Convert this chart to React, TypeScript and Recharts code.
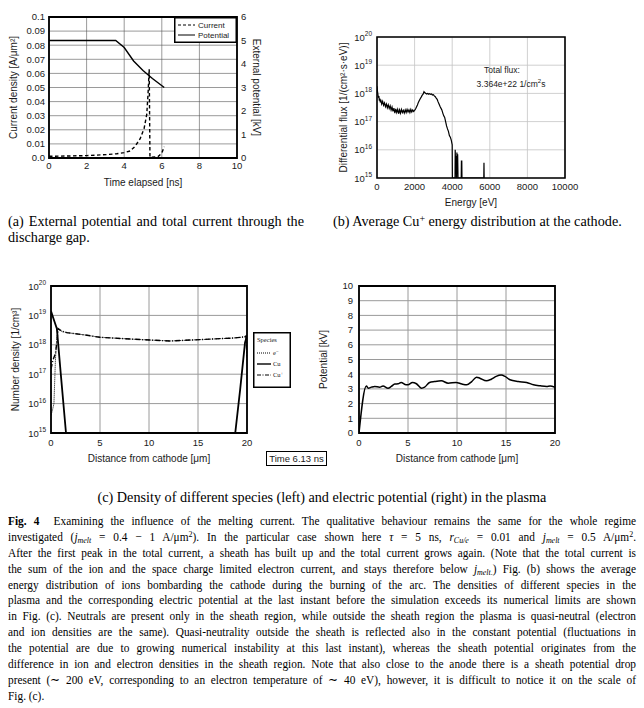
import React from 'react';
import { LineChart, Line, XAxis, YAxis, CartesianGrid, ReferenceArea, Legend } from 'recharts';

const SANS = "'Liberation Sans', Arial, sans-serif";
const SERIF = "'Liberation Serif', 'Times New Roman', serif";
const INK = '#1a1a1a';

// ---------- (a) current & external potential ----------
const aTicksX = [0, 2, 4, 6, 8, 10];
const aTicksLeft = [0, 0.01, 0.02, 0.03, 0.04, 0.05, 0.06, 0.07, 0.08, 0.09, 0.1];
const aTicksRight = [0, 1, 2, 3, 4, 5, 6];
const timeCurrent = [0, 0.94, 2, 3.07, 3.6, 4.0, 4.32, 4.58, 4.85, 5.06, 5.2, 5.27, 5.33, 5.37, 5.8, 6.0, 6.13];
const currentDensity = [0.0012, 0.0014, 0.0017, 0.0024, 0.003, 0.0038, 0.005, 0.0083, 0.0137, 0.021, 0.031, 0.046, 0.063, 0.0005, 0.001, 0.0035, 0.008];
const timePotential = [0, 3.55, 4.0, 4.5, 5.0, 5.5, 6.13];
const externalPotential = [5, 5, 4.7, 4.13, 3.72, 3.38, 3.0];

// ---------- (b) energy distribution ----------
const bTicksX = [0, 2000, 4000, 6000, 8000, 10000];
const logTicks = [1e15, 1e16, 1e17, 1e18, 1e19, 1e20];
const energy = [
  0, 25, 50, 75, 100, 125, 150, 175, 200, 250, 300, 350, 400, 450, 500, 550, 600, 650, 700, 750,
  800, 850, 900, 950, 1000, 1050, 1100, 1150, 1200, 1250, 1300, 1350, 1400, 1450, 1500, 1550, 1600, 1650, 1700, 1750,
  1800, 1850, 1900, 1950, 2000, 2050, 2100, 2150, 2200, 2250, 2300, 2350, 2400, 2450, 2500, 2550, 2600, 2650, 2700, 2750,
  2800, 2850, 2900, 2950, 3000, 3050, 3100, 3150, 3200, 3250, 3300, 3350, 3400, 3450, 3500, 3550, 3600, 3650, 3700, 3750,
  3800, 3850, 3900, 3950, 4000, 4010, 4150, 4160, 4180, 4200, 4220, 4240, 4250, 4270, 4290, 4310, 4480, 4490, 4510, 4520,
  5680, 5690, 5700,
];
const diffFlux = [
  1.8e18, 1.2e18, 9e17, 7e17, 8e17, 5.5e17, 6.5e17, 4.8e17, 6e17, 4.2e17, 5.2e17, 3.8e17, 4.6e17, 3.4e17, 4.2e17, 3.1e17, 3.9e17, 2.9e17, 3.6e17, 2.6e17,
  3.3e17, 2.3e17, 3.0e17, 2.0e17, 2.8e17, 2.1e17, 2.7e17, 1.9e17, 2.6e17, 2.0e17, 2.7e17, 2.1e17, 2.5e17, 2.0e17, 2.6e17, 2.1e17, 2.7e17, 2.2e17, 2.6e17, 2.1e17,
  2.7e17, 2.2e17, 2.6e17, 2.3e17, 2.5e17, 2.8e17, 3.3e17, 3.9e17, 4.8e17, 5.6e17, 6.5e17, 7.4e17, 8.5e17, 9.4e17, 1.15e18, 1.05e18, 1.0e18, 9.5e17, 1.0e18, 9.4e17,
  9.8e17, 9.2e17, 9.5e17, 8.8e17, 9.0e17, 8.2e17, 7.6e17, 6.8e17, 6.2e17, 5.0e17, 4.2e17, 3.5e17, 3.0e17, 2.6e17, 2.0e17, 1.6e17, 1.4e17, 1.0e17, 7e16, 5.5e16,
  4.5e16, 3.2e16, 2.8e16, 2.2e16, 1.5e16, 1e15, 1e15, 1e16, 3e15, 6e15, 1e15, 1e15, 8e15, 4e15, 7e15, 1e15, 1e15, 4e15, 4e15, 1e15,
  1e15, 3.5e15, 1e15,
];

// ---------- (c) densities ----------
const cTicksX = [0, 5, 10, 15, 20];
const elecX = [0, 0.15, 0.3, 0.45, 0.55, 0.72, 1.1, 1.6, 3.3, 5.0, 8.4, 10.1, 12.2, 15.2, 18.6, 19.7, 19.9, 20];
const elecDensity = [4e15, 6e15, 1e16, 3e17, 1.1e18, 3.4e18, 2.9e18, 2.6e18, 2.2e18, 1.8e18, 1.55e18, 1.45e18, 1.35e18, 1.5e18, 1.7e18, 1.85e18, 1.9e18, 3e17];
const cuX = [0, 0.3, 0.6, 1.0, 1.53, 10, 18.8, 19.3, 19.8, 20];
const cuDensity = [1.4e19, 7e18, 3.5e18, 1e17, 1e15, null, 1e15, 3e16, 1.2e18, 2e18];
const ionX = [0, 0.2, 0.45, 0.6, 0.72, 1.1, 1.6, 3.3, 5.0, 8.4, 10.1, 12.2, 15.2, 18.6, 19.7, 19.9, 20];
const ionDensity = [1.5e17, 3e17, 5e17, 1.2e18, 3.6e18, 2.9e18, 2.6e18, 2.2e18, 1.8e18, 1.55e18, 1.45e18, 1.35e18, 1.5e18, 1.7e18, 1.85e18, 2.0e18, 4e17];

// ---------- (c) potential ----------
const pTicksY = [0, 1, 2, 3, 4, 5, 6, 7, 8, 9, 10];
const distX = [0, 0.75, 0.95, 1.26, 1.6, 2.1, 2.45, 2.96, 3.3, 3.65, 4.0, 4.3, 4.8, 5.0, 5.45, 5.86, 6.37, 6.7, 7.2, 7.7, 8.4, 9.1, 9.9, 10.5, 11.0, 11.5, 12.0, 12.33, 13.0, 13.5, 14.0, 14.5, 14.9, 15.4, 16.25, 17.1, 17.8, 18.5, 19.15, 19.5, 20];
const plasmaPotential = [0, 3.2, 3.05, 3.12, 3.17, 3.12, 3.2, 3.05, 3.17, 3.33, 3.35, 3.44, 3.28, 3.28, 3.44, 3.35, 3.05, 3.12, 3.44, 3.5, 3.55, 3.39, 3.44, 3.33, 3.28, 3.5, 3.8, 3.73, 3.55, 3.66, 3.85, 3.94, 3.85, 3.62, 3.5, 3.44, 3.28, 3.21, 3.17, 3.2, 3.1];

const zip = (xs: number[], ys: (number | null)[]) => xs.map((x, i) => ({ x, v: ys[i] }));
const currentData = zip(timeCurrent, currentDensity);
const extPotData = zip(timePotential, externalPotential);
const fluxData = zip(energy, diffFlux);
const elecData = zip(elecX, elecDensity);
const cuData = zip(cuX, cuDensity);
const ionData = zip(ionX, ionDensity);
const potData = zip(distX, plasmaPotential);

const tickStyle = { fontSize: 9.5, fill: INK, fontFamily: SANS };
const labelStyle = { fontSize: 10, fill: INK, fontFamily: SANS, textAnchor: 'middle' as const };

function LogTick(props: any) {
  const { x, y, payload } = props;
  const exp = Math.round(Math.log10(payload.value));
  return (
    <text x={x} y={y} dy={3.5} textAnchor="end" fontSize={9.5} fontFamily={SANS} fill={INK}>
      10<tspan dy={-4.5} fontSize={6.5}>{exp}</tspan>
    </text>
  );
}

const fmtA = (v: number) => (v === 0 ? '0.0' : String(Number(v.toFixed(2))));

function LegendA() {
  return (
    <svg width={63} height={26} style={{ display: 'block' }}>
      <rect x={0.75} y={0.75} width={61.5} height={24.5} fill="#fff" stroke="#000" strokeWidth={1.5} />
      <line x1={4} y1={8} x2={21} y2={8} stroke="#000" strokeWidth={1} strokeDasharray="3 2" />
      <text x={24} y={10.5} fontSize={8} fontFamily={SANS} fill={INK}>Current</text>
      <line x1={4} y1={18} x2={21} y2={18} stroke="#000" strokeWidth={1} />
      <text x={24} y={20.5} fontSize={8} fontFamily={SANS} fill={INK}>Potential</text>
    </svg>
  );
}

function LegendC() {
  return (
    <svg width={38} height={56} style={{ display: 'block' }}>
      <rect x={0.75} y={0.75} width={36.5} height={54.5} fill="#fff" stroke="#000" strokeWidth={1.5} />
      <text x={4} y={10} fontSize={6.5} fontFamily={SERIF} fill={INK}>Species</text>
      <line x1={4} y1={21} x2={18} y2={21} stroke="#000" strokeWidth={1} strokeDasharray="1 1" />
      <text x={20} y={23} fontSize={6.5} fontFamily={SERIF} fill={INK}>e<tspan dy={-2.5} fontSize={5}>−</tspan></text>
      <line x1={4} y1={32} x2={18} y2={32} stroke="#000" strokeWidth={1.4} />
      <text x={20} y={34} fontSize={6.5} fontFamily={SERIF} fill={INK}>Cu</text>
      <line x1={4} y1={43} x2={18} y2={43} stroke="#000" strokeWidth={1.2} strokeDasharray="4 1.5 1 1.5" />
      <text x={20} y={45} fontSize={6.5} fontFamily={SERIF} fill={INK}>Cu<tspan dy={-2.5} fontSize={5}>+</tspan></text>
    </svg>
  );
}

const sub: React.CSSProperties = { fontSize: '70%', lineHeight: 0, verticalAlign: '-0.25em' };
const sup: React.CSSProperties = { fontSize: '70%', lineHeight: 0, verticalAlign: '0.45em' };
const Jm = ({ dot }: { dot?: boolean }) => (
  <span>
    <i>j</i>
    <sub style={sub}><i>melt</i>{dot ? '.' : ''}</sub>
  </span>
);

const paraLines: React.ReactNode[] = [
  <>
    <b>Fig. 4</b>&nbsp; Examining the influence of the melting current. The qualitative behaviour remains the same for the whole regime
  </>,
  <>
    investigated (<Jm /> = 0.4 − 1 A/μm<sup style={sup}>2</sup>). In the particular case shown here <i>τ</i> = 5 ns, <i>r</i>
    <sub style={sub}><i>Cu/e</i></sub> = 0.01 and <Jm /> = 0.5 A/μm<sup style={sup}>2</sup>.
  </>,
  <>After the first peak in the total current, a sheath has built up and the total current grows again. (Note that the total current is</>,
  <>
    the sum of the ion and the space charge limited electron current, and stays therefore below <Jm dot />) Fig. (b) shows the average
  </>,
  <>energy distribution of ions bombarding the cathode during the burning of the arc. The densities of different species in the</>,
  <>plasma and the corresponding electric potential at the last instant before the simulation exceeds its numerical limits are shown</>,
  <>in Fig. (c). Neutrals are present only in the sheath region, while outside the sheath region the plasma is quasi-neutral (electron</>,
  <>and ion densities are the same). Quasi-neutrality outside the sheath is reflected also in the constant potential (fluctuations in</>,
  <>the potential are due to growing numerical instability at this last instant), whereas the sheath potential originates from the</>,
  <>difference in ion and electron densities in the sheath region. Note that also close to the anode there is a sheath potential drop</>,
  <>present (∼ 200 eV, corresponding to an electron temperature of ∼ 40 eV), however, it is difficult to notice it on the scale of</>,
  <>Fig. (c).</>,
];

const abs = (left: number, top: number): React.CSSProperties => ({ position: 'absolute', left, top });
const PARA_W = 692;
const PARA_SCALE = 628 / PARA_W;

export default function App() {
  return (
    <div style={{ position: 'absolute', left: 0, top: 0, width: 644, height: 708, background: '#fff', overflow: 'hidden' }}>
      {/* (a) */}
      <div style={abs(0, 0)}>
        <LineChart width={270} height={195} margin={{ top: 17, right: 0, bottom: 0, left: 0 }}>
          <CartesianGrid stroke="#555" strokeWidth={0.6} />
          <XAxis dataKey="x" type="number" domain={[0, 10]} ticks={aTicksX} interval={0} allowDataOverflow
            tickLine={false} axisLine={false} tickSize={2} tickMargin={2} tick={tickStyle} height={37}
            label={{ value: 'Time elapsed [ns]', position: 'insideBottom', offset: 9, style: labelStyle }} />
          <YAxis yAxisId={0} domain={[0, 0.1]} ticks={aTicksLeft} interval={0} allowDataOverflow tickFormatter={fmtA}
            tickLine={false} axisLine={false} tickSize={2} tickMargin={2} tick={tickStyle} width={49}
            label={{ value: 'Current density [A/μm²]', angle: -90, position: 'insideLeft', offset: 13, style: labelStyle }} />
          <YAxis yAxisId="right" orientation="right" domain={[0, 6]} ticks={aTicksRight} interval={0} allowDataOverflow
            tickLine={false} axisLine={false} tickSize={2} tickMargin={2} tick={tickStyle} width={33}
            label={{ value: 'External potential [kV]', angle: 90, position: 'insideRight', offset: 13, style: labelStyle }} />
          <Line yAxisId={0} data={currentData} dataKey="v" type="linear" stroke="#000" strokeWidth={1.4}
            strokeDasharray="3.5 2.5" dot={false} isAnimationActive={false} />
          <Line yAxisId="right" data={extPotData} dataKey="v" type="linear" stroke="#000" strokeWidth={1.4}
            dot={false} isAnimationActive={false} />
          <ReferenceArea yAxisId={0} x1={0} x2={10} y1={0} y2={0.1} fill="none" stroke="#000" strokeWidth={1.8} ifOverflow="visible" />
          <Legend layout="vertical" align="center" verticalAlign="middle" content={() => <LegendA />}
            wrapperStyle={{ left: 174, top: 17, width: 63, height: 26 }} />
        </LineChart>
      </div>

      {/* (b) */}
      <div style={abs(322, 0)}>
        <LineChart width={322} height={212} margin={{ top: 37, right: 79, bottom: 0, left: 0 }}>
          <CartesianGrid stroke="#c4c4c4" strokeWidth={0.8} />
          <XAxis dataKey="x" type="number" domain={[0, 10000]} ticks={bTicksX} interval={0} allowDataOverflow
            tickLine={false} axisLine={false} tickSize={3} tickMargin={2} tick={tickStyle} height={34}
            label={{ value: 'Energy [eV]', position: 'insideBottom', offset: 6, style: labelStyle }} />
          <YAxis scale="log" domain={[1e15, 1e20]} ticks={logTicks} interval={0} allowDataOverflow
            tickLine={false} axisLine={false} tickSize={3} tickMargin={2} tick={<LogTick />} width={55}
            label={{ value: 'Differential flux [1/(cm²·s·eV)]', angle: -90, position: 'insideLeft', offset: 21, style: labelStyle }} />
          <Line data={fluxData} dataKey="v" type="linear" stroke="#000" strokeWidth={1.2} dot={false} isAnimationActive={false} />
          <ReferenceArea x1={0} x2={10000} y1={1e15} y2={1e20} fill="none" stroke="#000" strokeWidth={1.6} ifOverflow="visible" />
        </LineChart>
        <div style={{ position: 'absolute', left: 180, top: 70, transform: 'translate(-50%,-50%)', fontFamily: SANS, fontSize: 8.5, color: INK, whiteSpace: 'nowrap' }}>
          Total flux:
        </div>
        <div style={{ position: 'absolute', left: 189, top: 84, transform: 'translate(-50%,-50%)', fontFamily: SANS, fontSize: 8.5, color: INK, whiteSpace: 'nowrap' }}>
          3.364e+22 1/cm<sup style={{ fontSize: 6, lineHeight: 0 }}>2</sup>s
        </div>
      </div>

      {/* (c) left */}
      <div style={abs(0, 270)}>
        <LineChart width={330} height={205} margin={{ top: 16, right: 83, bottom: 0, left: 0 }}>
          <CartesianGrid stroke="#9a9a9a" strokeWidth={1} />
          <XAxis dataKey="x" type="number" domain={[0, 20]} ticks={cTicksX} interval={0} allowDataOverflow
            tickLine={false} axisLine={false} tickSize={4} tickMargin={2} tick={tickStyle} height={42}
            label={{ value: 'Distance from cathode [μm]', position: 'insideBottom', offset: 13, style: labelStyle }} />
          <YAxis scale="log" domain={[1e15, 1e20]} ticks={logTicks} interval={0} allowDataOverflow
            tickLine={false} axisLine={false} tickSize={3} tickMargin={2} tick={<LogTick />} width={51}
            label={{ value: 'Number density [1/cm³]', angle: -90, position: 'insideLeft', offset: 15, style: labelStyle }} />
          <Line data={elecData} dataKey="v" type="linear" stroke="#000" strokeWidth={1} strokeDasharray="1 1"
            dot={false} isAnimationActive={false} />
          <Line data={cuData} dataKey="v" type="linear" stroke="#000" strokeWidth={1.8}
            dot={false} isAnimationActive={false} />
          <Line data={ionData} dataKey="v" type="linear" stroke="#000" strokeWidth={1.4} strokeDasharray="5 2 1 2"
            dot={false} isAnimationActive={false} />
          <ReferenceArea x1={0} x2={20} y1={1e15} y2={1e20} fill="none" stroke="#000" strokeWidth={1.8} ifOverflow="visible" />
          <Legend layout="vertical" align="center" verticalAlign="middle" content={() => <LegendC />}
            wrapperStyle={{ left: 253, top: 62, width: 38, height: 56 }} />
        </LineChart>
      </div>

      {/* (c) right */}
      <div style={abs(312, 270)}>
        <LineChart width={332} height={205} margin={{ top: 16, right: 89, bottom: 0, left: 0 }}>
          <CartesianGrid stroke="#9a9a9a" strokeWidth={1} />
          <XAxis dataKey="x" type="number" domain={[0, 20]} ticks={cTicksX} interval={0} allowDataOverflow
            tickLine={false} axisLine={false} tickSize={4} tickMargin={2} tick={tickStyle} height={42}
            label={{ value: 'Distance from cathode [μm]', position: 'insideBottom', offset: 13, style: labelStyle }} />
          <YAxis domain={[0, 10]} ticks={pTicksY} interval={0} allowDataOverflow
            tickLine={false} axisLine={false} tickSize={3} tickMargin={3} tick={tickStyle} width={47}
            label={{ value: 'Potential [kV]', angle: -90, position: 'insideLeft', offset: 11, style: labelStyle }} />
          <Line data={potData} dataKey="v" type="monotone" stroke="#000" strokeWidth={1.5}
            dot={false} isAnimationActive={false} />
          <ReferenceArea x1={0} x2={20} y1={0} y2={10} fill="none" stroke="#000" strokeWidth={1.8} ifOverflow="visible" />
        </LineChart>
      </div>

      {/* time box */}
      <div style={{ position: 'absolute', left: 266, top: 451, width: 61, height: 15, boxSizing: 'border-box', border: '1.2px solid #000',
        fontFamily: SANS, fontSize: 9.5, lineHeight: '13px', textAlign: 'center', color: INK, background: '#fff' }}>
        Time 6.13 ns
      </div>

      {/* captions */}
      <div style={{ position: 'absolute', left: 8, top: 213, width: 296, fontFamily: SERIF, fontSize: 14.2, lineHeight: '16px', color: '#000' }}>
        <div style={{ textAlign: 'justify', textAlignLast: 'justify' }}>(a) External potential and total current through the</div>
        <div>discharge gap.</div>
      </div>
      <div style={{ position: 'absolute', left: 333, top: 213, fontFamily: SERIF, fontSize: 14.2, lineHeight: '16px', color: '#000', whiteSpace: 'nowrap' }}>
        (b) Average Cu<sup style={sup}>+</sup> energy distribution at the cathode.
      </div>
      <div style={{ position: 'absolute', left: 0, width: 644, top: 489, fontFamily: SERIF, fontSize: 14.2, lineHeight: '16px', color: '#000', textAlign: 'center', whiteSpace: 'nowrap' }}>
        (c) Density of different species (left) and electric potential (right) in the plasma
      </div>

      {/* paragraph */}
      <div style={{ position: 'absolute', left: 8, top: 514, width: PARA_W, fontFamily: SERIF, fontSize: 12.5, color: '#000',
        transform: `scaleX(${PARA_SCALE})`, transformOrigin: 'left top' }}>
        {paraLines.map((ln, i) => (
          <div key={i} style={{ height: 15.9, lineHeight: '15.9px', textAlign: 'justify', textAlignLast: i === paraLines.length - 1 ? 'left' : 'justify' }}>
            {ln}
          </div>
        ))}
      </div>
    </div>
  );
}
